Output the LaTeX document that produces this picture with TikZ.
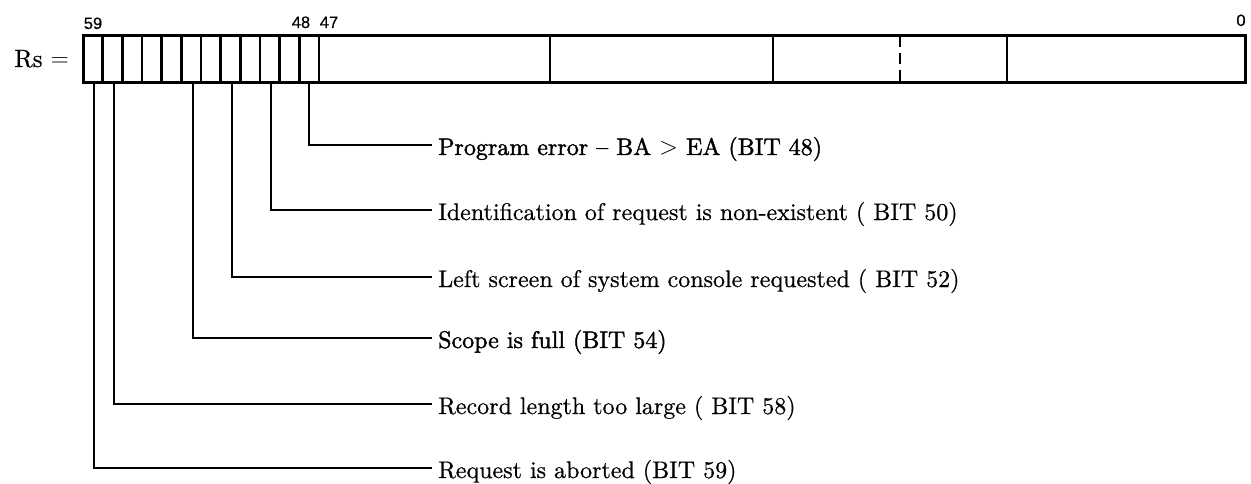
\documentclass[tikz,border=0pt]{standalone}
\usepackage{fontspec}
\newfontfamily\bitfont{Liberation Sans}[FakeBold=0.6]
\newfontfamily\descfont{lmroman10-regular.otf}[Ligatures=TeX, FakeBold=0.6]
\newfontfamily\heavyfont{lmroman10-regular.otf}[Ligatures=TeX, FakeBold=1.6]
\begin{document}
\begin{tikzpicture}[x=1pt,y=-1pt,
  frame/.style={line width=3pt},
  divider/.style={line width=2.6pt},
  leader/.style={line width=2.2pt},
  desc/.style={anchor=base west, inner xsep=6pt, inner ysep=0pt,
               font=\descfont\fontsize{24}{28}\selectfont},
  heavy/.style={desc, font=\heavyfont\fontsize{24}{28}\selectfont},
  bitno/.style={anchor=base, inner sep=0pt,
                font=\bitfont\fontsize{16.5}{18}\selectfont}]
\useasboundingbox (0,0) rectangle (1251,484);

% register name
\node[anchor=base east, inner sep=0pt, font=\descfont\fontsize{25}{28}\selectfont]
  (rs) at (69,67) {Rs $=$};

% outer frame of the register
\draw[frame] (83,36) rectangle (1245,83);
% twelve single-bit cells, bits 59..48
\foreach \i in {1,...,11} {
  \draw[divider] ({83+19.67*\i},36) -- ({83+19.67*\i},83);
}
\draw[divider] (319,36) -- (319,83);
% wider fields of bits 47..0
\draw[divider] (550,36) -- (550,83);
\draw[divider] (773,36) -- (773,83);
\draw[divider, dash pattern=on 11pt off 6pt] (900,36) -- (900,83);
\draw[divider] (1007,36) -- (1007,83);

% bit numbers
\node[bitno] (n59) at (93,29) {59};
\node[bitno] (n48) at (301,28) {48};
\node[bitno] (n47) at (329,28) {47};
\node[bitno] (n0)  at (1241,26) {0};

% lower edge of the cells that carry a flag
\coordinate (b59) at (94,83);
\coordinate (b58) at (114,83);
\coordinate (b54) at (193,83);
\coordinate (b52) at (232,83);
\coordinate (b50) at (271,83);
\coordinate (b48) at (309,83);

% flag descriptions (baseline 10pt below the leader)
\node[heavy] (t48) at (432,155) {Program error – BA $>$ EA (BIT 48)};
\node[desc]  (t50) at (432,220) {Identification of request is non-existent ( BIT 50)};
\node[desc]  (t52) at (432,287) {Left screen of system console requested ( BIT 52)};
\node[heavy] (t54) at (432,348) {Scope is full (BIT 54)};
\node[desc]  (t58) at (432,414) {Record length too large ( BIT 58)};
\node[desc]  (t59) at (432,478) {Request is aborted (BIT 59)};

% leaders from the cells to their descriptions
\foreach \b in {48,50,52,54,58,59} {
  \draw[leader] (b\b) |- ([yshift=10pt]t\b.base west);
}
\end{tikzpicture}
\end{document}
